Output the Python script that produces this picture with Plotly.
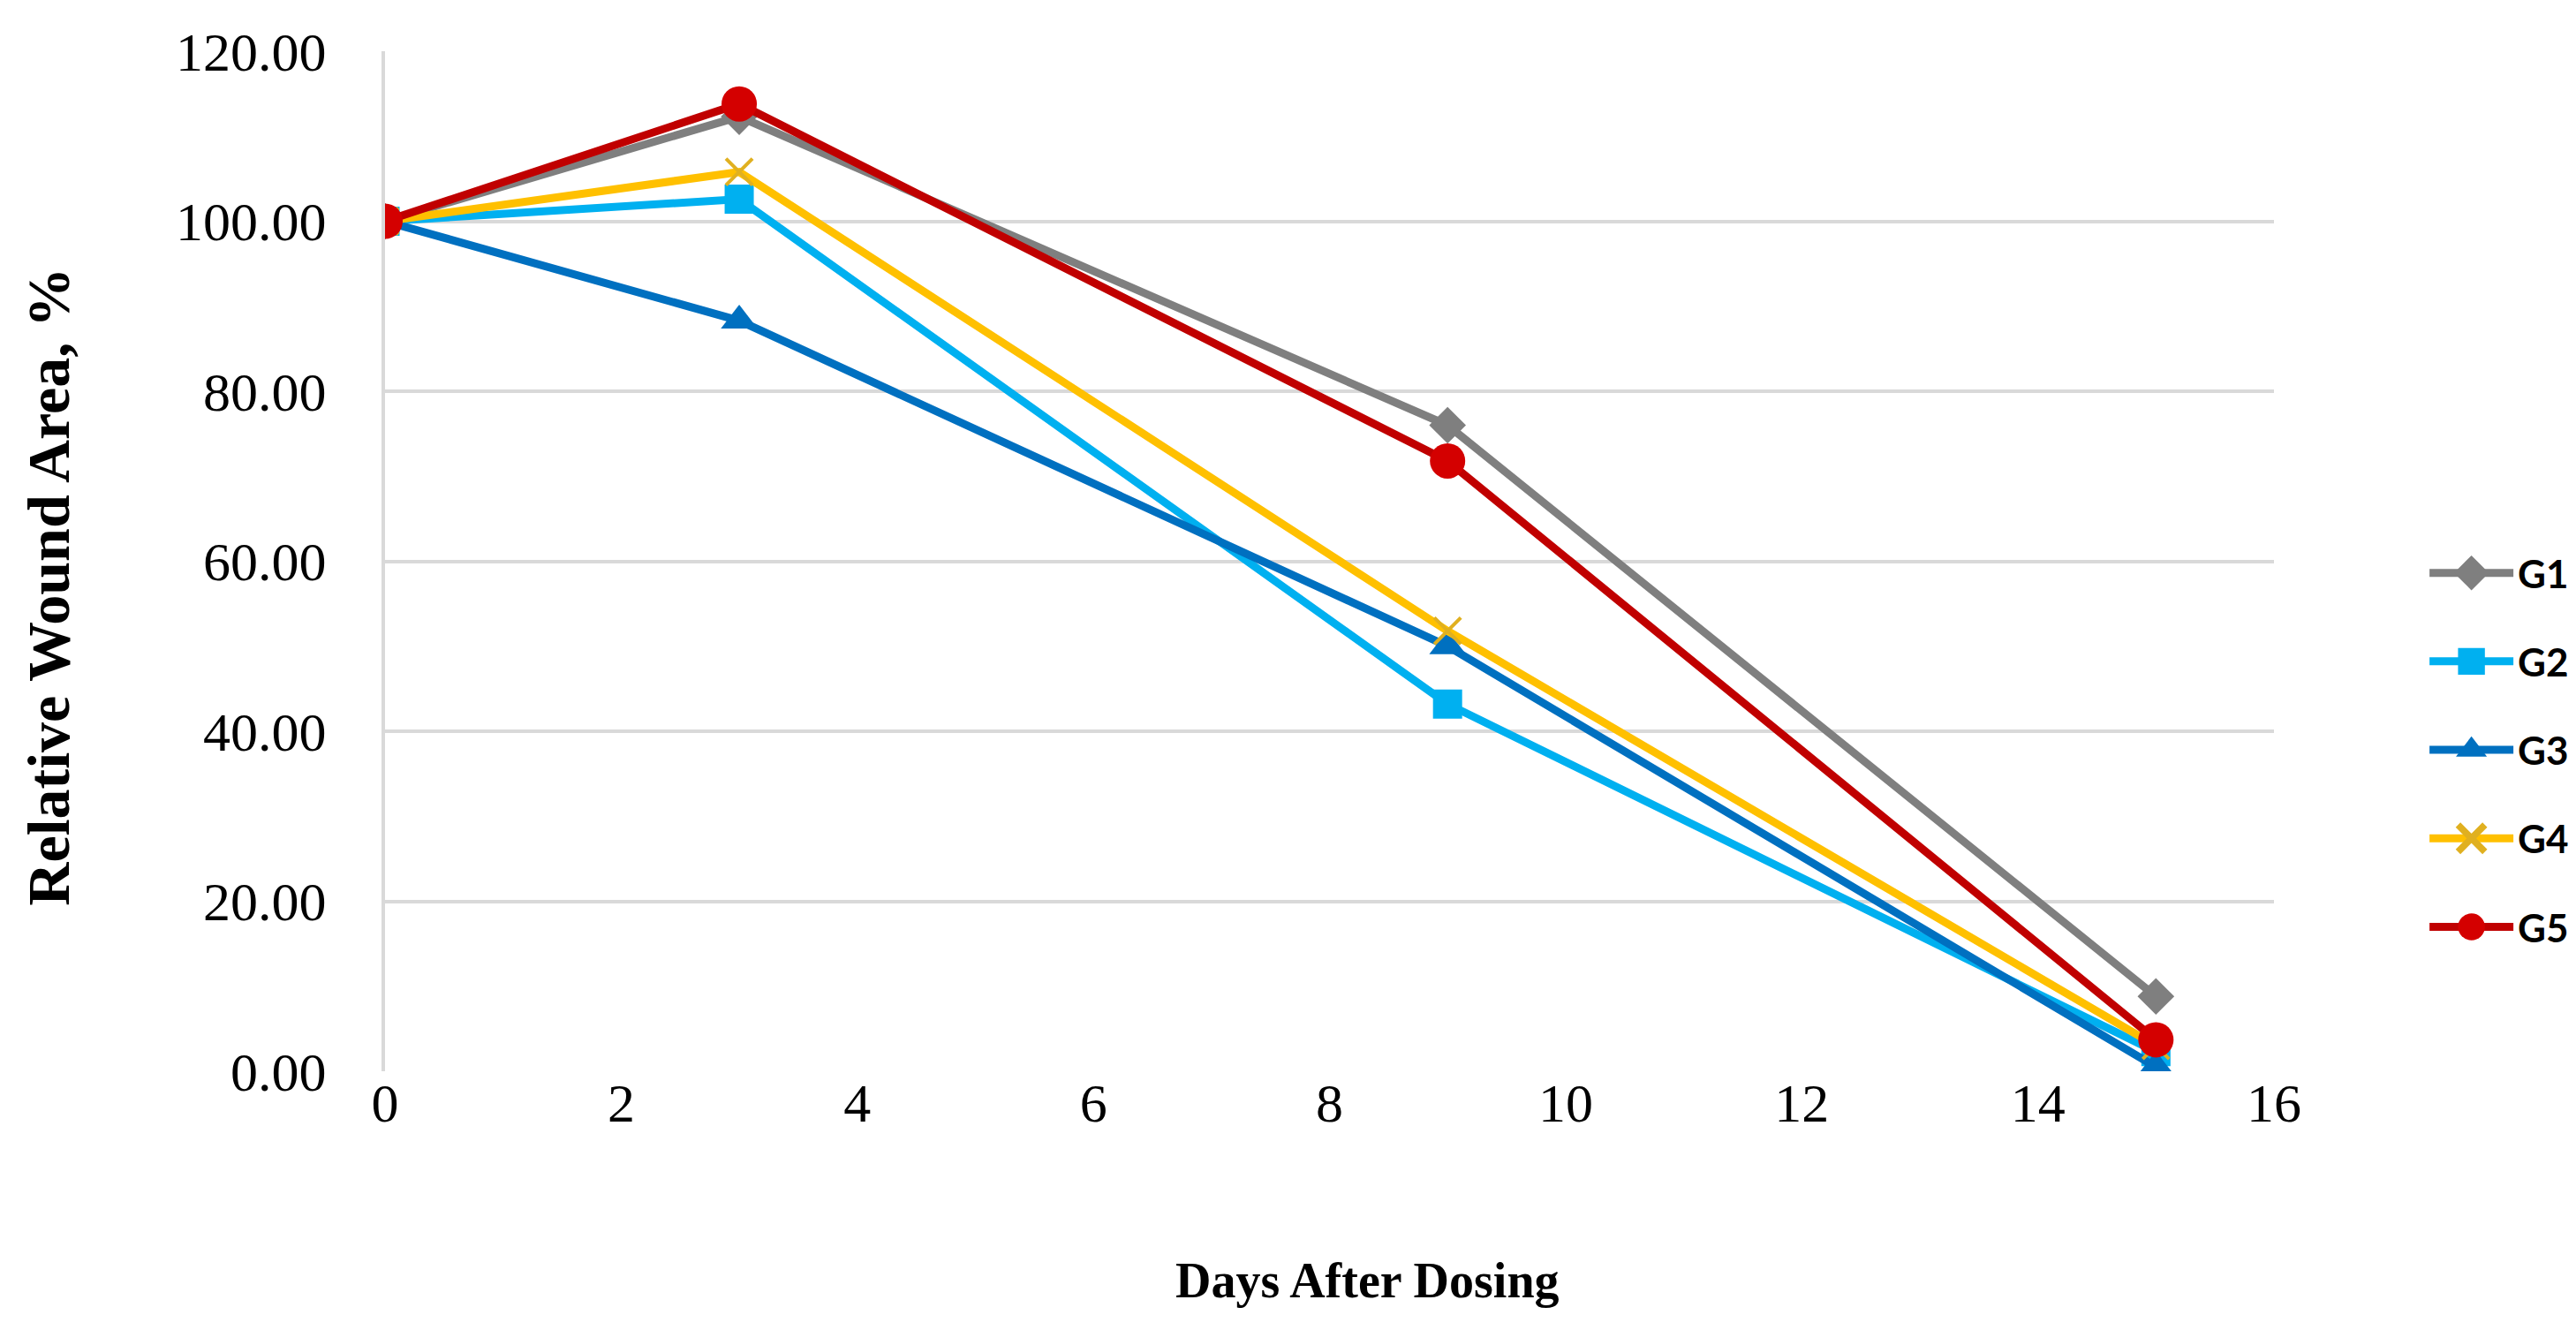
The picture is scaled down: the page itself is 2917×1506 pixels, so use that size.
import plotly.graph_objects as go

days = [0, 3, 9, 15]
G1 = [100.0, 112.3, 76.0, 8.8]
G2 = [100.0, 102.6, 43.2, 2.3]
G3 = [100.0, 88.3, 50.0, 0.5]
G4 = [100.0, 105.8, 51.8, 3.0]
G5 = [100.0, 113.8, 71.8, 3.7]

series = [
    ("G1", G1, "#7f7f7f", "#7f7f7f", "diamond", 32),
    ("G2", G2, "#00b0f0", "#00b0f0", "square", 33),
    ("G3", G3, "#0070c0", "#0070c0", "triangle-up", 36),
    ("G4", G4, "#ffc000", "#ffc000", "x-thin", 30),
    ("G5", G5, "#c00000", "#d40000", "circle", 40),
]

fig = go.Figure()
for name, vals, lc, mc, sym, sz in series:
    marker = dict(symbol=sym, size=sz, color=mc, line=dict(width=0, color=mc))
    if sym == "x-thin":
        marker = dict(symbol=sym, size=sz, color=mc, line=dict(width=4, color="#e0b020"))
    fig.add_trace(go.Scatter(
        x=days, y=vals, name=name, mode="lines+markers",
        line=dict(color=lc, width=9), marker=marker,
        legendgroup=name,
    ))

L, R, T, B = 428, 350, 50, 301
fig.update_layout(
    width=2917, height=1506,
    margin=dict(l=L, r=R, t=T, b=B, autoexpand=False),
    plot_bgcolor="white", paper_bgcolor="white",
    font=dict(family="Liberation Serif", color="black"),
    legend=dict(
        x=1.080, y=0.519, xanchor="left", yanchor="top",
        font=dict(family="Lato", size=44, color="black", weight="bold"),
        tracegroupgap=40, itemwidth=95, itemsizing="trace",
    ),
    showlegend=True,
)
fig.update_xaxes(
    range=[0, 16], tickvals=list(range(0, 17, 2)), showgrid=False,
    zeroline=False, showline=False, ticks="", tickfont=dict(size=62),
    ticklabelstandoff=-6,
)
fig.update_yaxes(
    range=[0, 120], tickvals=list(range(0, 121, 20)), tickformat=".2f",
    showgrid=True, gridcolor="#d9d9d9", gridwidth=4,
    zeroline=False, showline=True, linecolor="#d9d9d9", linewidth=4,
    ticks="", tickfont=dict(size=62), ticklabelstandoff=50,
)
fig.add_annotation(
    text="<b>Relative Wound Area, %</b>", xref="paper", yref="paper",
    x=-0.178, y=0.475, textangle=-90, showarrow=False,
    font=dict(family="Liberation Serif", size=68, color="black"),
    xanchor="center", yanchor="middle",
)
fig.add_annotation(
    text="<b>Days After Dosing</b>", xref="paper", yref="paper",
    x=0.52, y=-0.205, showarrow=False,
    font=dict(family="Liberation Serif", size=56, color="black"),
    xanchor="center", yanchor="middle",
)

post = """
var gd = document.getElementById('{plot_id}');
gd.querySelectorAll('.legend path.scatterpts').forEach(function(p){
  var t = p.getAttribute('transform') || '';
  p.setAttribute('transform', t + ' scale(1.9)');
});
"""
fig.write_html("out.html", post_script=post)
